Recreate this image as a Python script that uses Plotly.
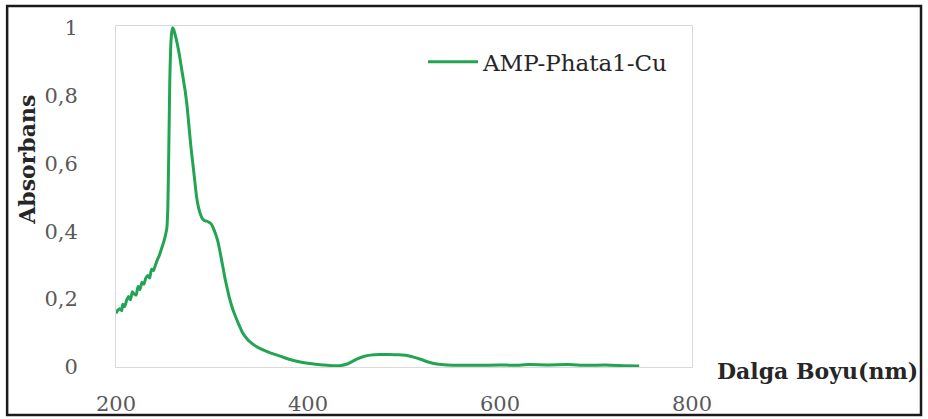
import plotly.graph_objects as go

# UV-Vis spectrum values (nm, absorbance)
wavelength = [
    200, 202, 204, 206, 207, 209, 211, 213, 215, 217, 219, 221, 223, 225, 227,
    229, 231, 233, 235, 237, 239, 241, 243, 245, 247, 249, 251, 253, 254, 255,
    256, 257, 258, 259, 260, 262, 264, 266, 268, 270, 272, 274, 276, 278, 280,
    282, 284, 286, 288, 290, 292, 294, 296, 298, 300, 302, 304, 306, 308, 310,
    312, 314, 316, 318, 320, 322, 325, 328, 332, 336, 340, 347, 355, 362, 368,
    375, 384, 392, 400, 408, 416, 425, 433, 440, 446, 452, 458, 465, 475, 485,
    495, 503, 510, 518, 526, 534, 545, 560, 580, 600, 615, 630, 650, 670, 690,
    710, 730, 745,
]
absorbance = [
    0.158, 0.168, 0.172, 0.166, 0.185, 0.178, 0.196, 0.208, 0.198, 0.222, 0.215,
    0.212, 0.238, 0.228, 0.250, 0.244, 0.262, 0.270, 0.262, 0.288, 0.284, 0.300,
    0.315, 0.328, 0.345, 0.362, 0.382, 0.410, 0.470, 0.640, 0.840, 0.945, 0.985,
    1.000, 0.995, 0.975, 0.950, 0.920, 0.885, 0.850, 0.815, 0.770, 0.710, 0.650,
    0.600, 0.550, 0.500, 0.470, 0.450, 0.437, 0.432, 0.430, 0.428, 0.425, 0.418,
    0.405, 0.390, 0.372, 0.345, 0.315, 0.285, 0.255, 0.230, 0.205, 0.185, 0.167,
    0.145, 0.125, 0.100, 0.085, 0.073, 0.059, 0.048, 0.040, 0.035, 0.028, 0.020,
    0.015, 0.011, 0.008, 0.006, 0.004, 0.004, 0.008, 0.016, 0.025, 0.031, 0.035,
    0.037, 0.037, 0.036, 0.034, 0.029, 0.022, 0.014, 0.009, 0.006, 0.005, 0.005,
    0.006, 0.005, 0.007, 0.006, 0.007, 0.005, 0.006, 0.004, 0.003,
]
series_name = "AMP-Phata1-Cu"
x_ticks = [200, 400, 600, 800]
y_ticks = [0, 0.2, 0.4, 0.6, 0.8, 1]

serif = "DejaVu Serif"
green = "#22a552"

fig = go.Figure()
fig.add_trace(
    go.Scatter(
        x=wavelength,
        y=absorbance,
        mode="lines",
        name=series_name,
        line=dict(color=green, width=3, shape="spline", smoothing=0.5),
    )
)

fig.update_layout(
    width=928,
    height=419,
    margin=dict(l=116, r=236, t=26, b=52),
    plot_bgcolor="white",
    paper_bgcolor="white",
    separators=", ",
    font=dict(family=serif, size=20, color="#595959"),
    showlegend=True,
    legend=dict(
        x=0.533,
        y=0.895,
        xanchor="left",
        yanchor="middle",
        bgcolor="rgba(0,0,0,0)",
        font=dict(family=serif, size=23, color="#262626"),
        itemwidth=50,
    ),
    xaxis=dict(
        range=[200, 800],
        tickvals=x_ticks,
        showgrid=False,
        zeroline=False,
        showline=True,
        mirror=True,
        linecolor="#d9d9d9",
        linewidth=1,
        ticks="",
        automargin=False,
        ticklabelstandoff=18,
        tickfont=dict(family=serif, size=21, color="#595959"),
    ),
    yaxis=dict(
        range=[0, 1.005],
        tickvals=y_ticks,
        showgrid=False,
        zeroline=False,
        showline=True,
        mirror=True,
        linecolor="#d9d9d9",
        linewidth=1,
        ticks="",
        automargin=False,
        ticklabelstandoff=33,
        tickfont=dict(family=serif, size=21, color="#595959"),
    ),
)

fig.add_annotation(
    text="<b>Absorbans</b>",
    xref="paper",
    yref="paper",
    x=-0.155,
    y=0.607,
    textangle=-90,
    showarrow=False,
    xanchor="center",
    yanchor="middle",
    font=dict(family=serif, size=22, color="#262626"),
)
fig.add_annotation(
    text="<b>Dalga Boyu(nm)</b>",
    xref="paper",
    yref="paper",
    x=1.040,
    y=-0.012,
    showarrow=False,
    xanchor="left",
    yanchor="middle",
    font=dict(family=serif, size=22, color="#262626"),
)

# outer frame around the whole picture
fig.add_shape(
    type="rect",
    xref="paper",
    yref="paper",
    x0=-0.189,
    x1=1.3976,
    y0=-0.1408,
    y1=1.0587,
    line=dict(color="#1a1a1a", width=2.5),
    fillcolor="rgba(0,0,0,0)",
)

# page body has a default 8px margin; drop it so the figure sits at 0,0
fig.write_html(
    "out.html",
    config={"displayModeBar": False},
    post_script="document.body.style.margin='0';",
)
